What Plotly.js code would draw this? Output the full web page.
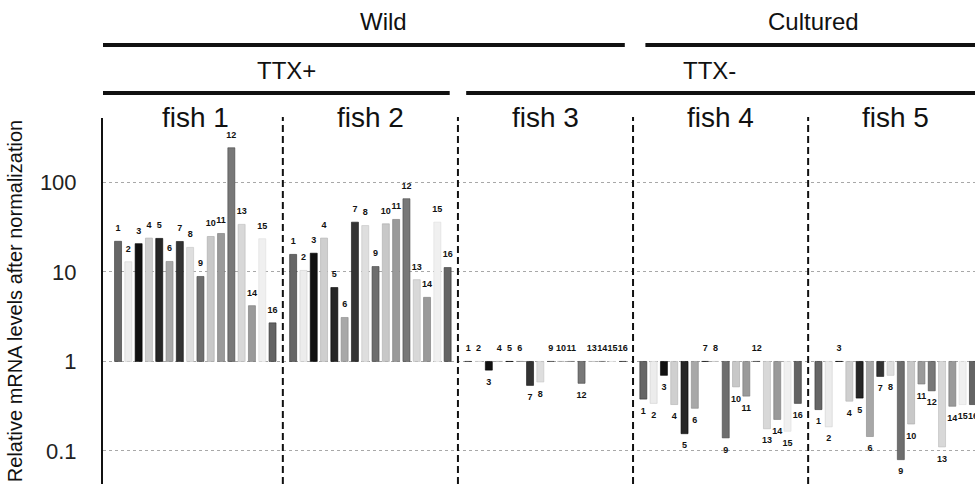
<!DOCTYPE html>
<html>
<head>
<meta charset="utf-8">
<script src="https://cdn.plot.ly/plotly-3.0.1.min.js"></script>
<style>html,body{margin:0;padding:0;background:#fff;}#chart{width:975px;height:484px;}</style>
</head>
<body>
<div id="chart"></div>
<script>
// ---- data ----
const fishNames = ["fish 1", "fish 2", "fish 3", "fish 4", "fish 5"];
const geneLabels = ["1","2","3","4","5","6","7","8","9","10","11","12","13","14","15","16"];
const fish1 = [22, 13, 20.7, 23.9, 23.7, 13.1, 21.9, 18.8, 8.9, 24.9, 26.9, 244, 34, 4.2, 23.5, 2.7];
const fish2 = [15.7, 10.4, 16.2, 23.9, 6.7, 3.1, 36, 33, 11.5, 34.5, 38.6, 65.8, 8.2, 5.2, 36, 11.2];
const fish3 = [1, 1, 0.8, 1, 1, 1, 0.54, 0.59, 1, 1, 1, 0.57, 1, 1, 1, 1];
const fish4 = [0.38, 0.34, 0.70, 0.33, 0.156, 0.30, 1, 1, 0.14, 0.52, 0.41, 1, 0.177, 0.225, 0.166, 0.34];
const fish5 = [0.29, 0.186, 1, 0.36, 0.39, 0.145, 0.68, 0.70, 0.080, 0.2, 0.56, 0.47, 0.111, 0.316, 0.33, 0.33];
const yTickVals = [0.1, 1, 10, 100];
const yTickText = ["0.1", "1", "10", "100"];
const originHeaders = ["Wild", "Cultured"];
const ttxHeaders = ["TTX+", "TTX-"];
const yTitle = "Relative mRNA levels after normalization";

// ---- styling ----
const geneColors = ["#666666","#ececec","#111111","#cfcfcf","#262626","#a8a8a8","#333333","#dedede",
                    "#6e6e6e","#c8c8c8","#9a9a9a","#787878","#d8d8d8","#9a9a9a","#f0f0f0","#646464"];
const lineColors = ["#333333","#d0d0d0","#000000","#b0b0b0","#000000","#888888","#111111","#c4c4c4",
                    "#444444","#aaaaaa","#777777","#444444","#bbbbbb","#777777","#dddddd","#333333"];
const SLOT = 17; // 16 bars + 1 gap per fish
const FONT = "Liberation Sans, Arial, sans-serif";

const allFish = [fish1, fish2, fish3, fish4, fish5];
const xs = [], ys = [], bases = [], cols = [], lcols = [], txt = [], tpos = [], tys = [];
allFish.forEach((arr, g) => {
  arr.forEach((v, i) => {
    const p = g * SLOT + i;
    xs.push(p);
    ys.push(v - 1);
    bases.push(1);
    cols.push(geneColors[i]);
    lcols.push(lineColors[i]);
    txt.push(geneLabels[i]);
    tys.push(v);
    tpos.push(v >= 1 ? "top center" : "bottom center");
  });
});

const bars = {
  type: "bar", x: xs, y: ys, base: bases, width: 0.68,
  marker: { color: cols, line: { color: lcols, width: 0.6 } },
  hoverinfo: "skip", showlegend: false
};
const labels = {
  type: "scatter", mode: "markers+text", x: xs, y: tys, text: txt, textposition: tpos,
  marker: { size: 11, opacity: 0 },
  textfont: { family: FONT, size: 9, color: "#111", weight: "bold" },
  cliponaxis: true, hoverinfo: "skip", showlegend: false
};

// layout geometry
const plotLeft = 103, plotTop = 118, H = 484;
const pyToPaper = py => (H - py) / (H - plotTop);

const shapes = [];
// dashed separators between fish
for (let g = 1; g < 5; g++) {
  shapes.push({ type: "line", xref: "x", yref: "paper", x0: g * SLOT - 1, x1: g * SLOT - 1,
    y0: 0, y1: pyToPaper(117), line: { color: "#111", width: 2, dash: "7px,4px" } });
}
// header bars
const hdrLine = (x0, x1, py) => ({ type: "line", xref: "x", yref: "paper", x0, x1,
  y0: pyToPaper(py), y1: pyToPaper(py), line: { color: "#111", width: 4 } });
shapes.push(hdrLine(-1.7, 49.2, 45));
shapes.push(hdrLine(51.2, 86, 45));
shapes.push(hdrLine(-1.7, 32.2, 93));
shapes.push(hdrLine(33.8, 86, 93));

const annotations = [];
fishNames.forEach((n, g) => {
  annotations.push({ xref: "x", yref: "paper", x: g * SLOT + 7.5, y: pyToPaper(117),
    text: n, showarrow: false, xanchor: "center", yanchor: "middle",
    font: { family: FONT, size: 28, color: "#111" } });
});
const hdrFont = { family: FONT, size: 24, color: "#111" };
annotations.push({ xref: "x", yref: "paper", x: 25.8, y: pyToPaper(22), text: originHeaders[0],
  showarrow: false, xanchor: "center", yanchor: "middle", font: hdrFont });
annotations.push({ xref: "x", yref: "paper", x: 67.5, y: pyToPaper(22), text: originHeaders[1],
  showarrow: false, xanchor: "center", yanchor: "middle", font: hdrFont });
annotations.push({ xref: "x", yref: "paper", x: 16.4, y: pyToPaper(70), text: ttxHeaders[0],
  showarrow: false, xanchor: "center", yanchor: "middle", font: hdrFont });
annotations.push({ xref: "x", yref: "paper", x: 57.4, y: pyToPaper(70), text: ttxHeaders[1],
  showarrow: false, xanchor: "center", yanchor: "middle", font: hdrFont });

const layout = {
  width: 975, height: 484,
  margin: { l: plotLeft, r: 0, t: plotTop, b: 0, pad: 0 },
  paper_bgcolor: "#fff", plot_bgcolor: "#fff",
  font: { family: FONT, color: "#111" },
  showlegend: false,
  bargap: 0,
  xaxis: { range: [-1.46, 83.2], visible: false, fixedrange: true },
  yaxis: {
    type: "log", range: [-1.369, 2.72], autorange: false,
    tickvals: yTickVals, ticktext: yTickText, ticks: "", ticklabelstandoff: 20,
    tickfont: { family: FONT, size: 22, color: "#222" },
    showline: true, linecolor: "#111", linewidth: 2,
    showgrid: true, gridcolor: "#a8a8a8", gridwidth: 1, griddash: "dot",
    zeroline: false, automargin: false,
    title: { text: yTitle, standoff: 12, font: { family: FONT, size: 20, color: "#111" } }
  },
  shapes, annotations
};

Plotly.newPlot("chart", [bars, labels], layout, { displayModeBar: false, staticPlot: true });
</script>
</body>
</html>
